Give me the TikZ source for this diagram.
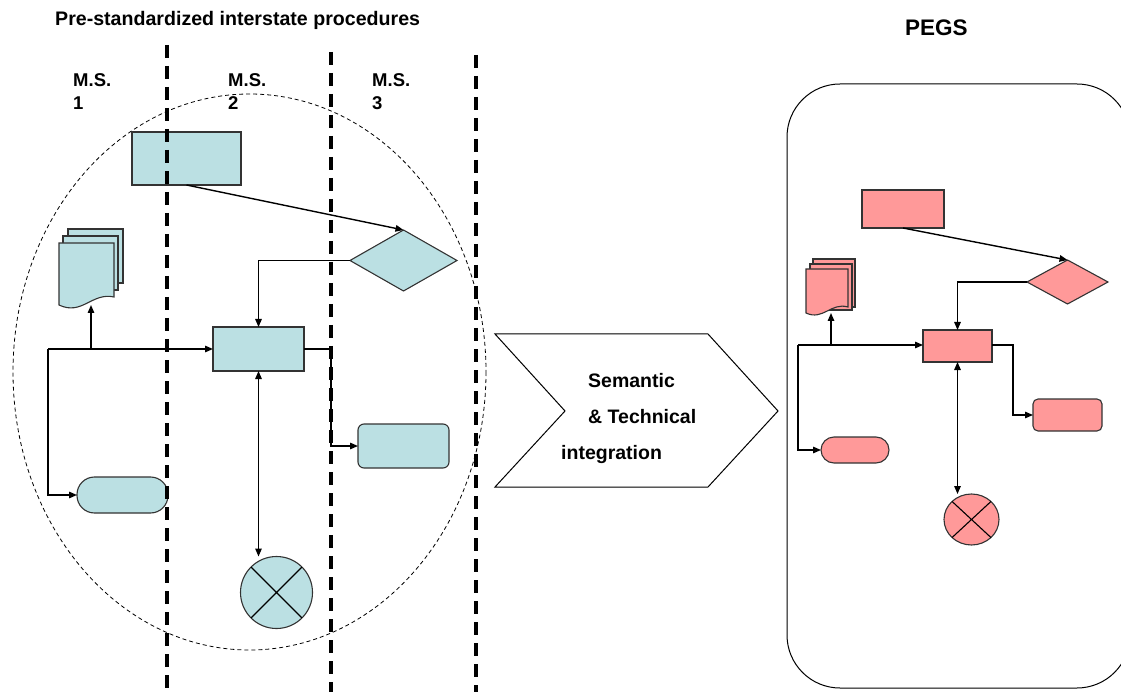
\documentclass[tikz,border=0pt]{standalone}
\usepackage{fontspec}
\setmainfont{Liberation Sans}
\usetikzlibrary{arrows.meta,shapes.geometric}
\definecolor{procblue}{HTML}{BBE0E3}
\definecolor{pegspink}{HTML}{FF9999}
\tikzset{
  shapeline/.style={draw=black!80, line width=1.1pt},
  bluebox/.style={shapeline, fill=procblue, inner sep=0pt, outer sep=0pt},
  pinkbox/.style={shapeline, fill=pegspink, inner sep=0pt, outer sep=0pt},
  link/.style={line width=1.4pt},
  tip/.style={-{Triangle[length=8pt,width=6.5pt]}},
  bothtips/.style={{Triangle[length=8pt,width=6.5pt]}-{Triangle[length=8pt,width=6.5pt]}},
  lane/.style={line width=3.5pt, dash pattern=on 13pt off 8pt},
  lbl/.style={font=\fontsize{18.5}{20}\selectfont\bfseries, anchor=base west, inner sep=0pt},
  heading/.style={font=\fontsize{19.6}{22}\selectfont\bfseries, anchor=base west, inner sep=0pt},
  chevtext/.style={font=\fontsize{19.5}{22}\selectfont\bfseries, anchor=base west, inner sep=0pt},
}
\begin{document}
\begin{tikzpicture}[x=1pt, y=-1pt]
\useasboundingbox (0,0) rectangle (1121,692);

% headings
\node[heading] (title) at (55,26) {Pre-standardized interstate procedures};
\node[heading, font=\fontsize{22.5}{24}\selectfont\bfseries] (pegs) at (905,36) {PEGS};

% member-state lane labels
\node[lbl] (ms1) at (73,87) {M.S.};
\node[lbl] (ms1n) at (73,110) {1};
\node[lbl] (ms2) at (228,87) {M.S.};
\node[lbl] (ms2n) at (228,110) {2};
\node[lbl] (ms3) at (372,87) {M.S.};
\node[lbl] (ms3n) at (372,110) {3};

% scope of the national procedures
\draw[line width=0.8pt, dash pattern=on 4pt off 3pt] (249.5,372) ellipse [x radius=236.5, y radius=278];

% ---------- national procedures ----------
\node[bluebox, minimum width=109pt, minimum height=53pt] (r1) at (186.5,158.5) {};
\node[bluebox, diamond, minimum width=107pt, minimum height=61pt] (dia1) at (403.5,260.5) {};
\node[bluebox, minimum width=91pt, minimum height=44pt] (r2) at (258.5,349) {};
\node[bluebox, rounded corners=17.5pt, minimum width=91pt, minimum height=36pt] (term1) at (122.5,495) {};
\node[bluebox, rounded corners=6pt, minimum width=91pt, minimum height=44pt] (rr1) at (403.5,446) {};
\node[bluebox, circle, minimum size=72pt] (circ1) at (276.5,592.5) {};
\draw[line width=1.1pt] (circ1.north west) -- (circ1.south east) (circ1.north east) -- (circ1.south west);

% multi-document symbol
\draw[shapeline, fill=procblue] (68,229) rectangle (123,283);
\draw[shapeline, fill=procblue] (63,236) rectangle (118,290);
\draw[shapeline, fill=procblue] (59,243) -- (114,243) -- (114,297)
  .. controls (92,292) and (82,316) .. (59,305) -- cycle;
\coordinate (doc1) at (91,305);

% swim-lane separators
\draw[lane] (167,45) -- (167,692);
\draw[lane] (331,52) -- (331,692);
\draw[lane] (476,55) -- (476,692);

% connectors
\coordinate (hub1) at (48,349);
\draw[link, tip] (r1.south) -- (dia1.north);
\draw[link, tip] (dia1.west) -| (r2.north);
\draw[link, tip] (hub1) -- (r2.west);
\draw[link, tip] (hub1) |- (term1.west);
\draw[link, tip] (hub1 -| doc1) -- (doc1);
\draw[link, tip] (r2.east) -- ++(27,0) |- (rr1.west);
\draw[link, bothtips] (r2.south) -- (r2.south |- circ1.north);

% ---------- integration step ----------
\draw[line width=1pt, fill=white] (495,334) -- (708,334) -- (778,411) -- (708,487)
  -- (495,487) -- (565,411) -- cycle;
\node[chevtext] (sem1) at (588,387) {Semantic};
\node[chevtext] (sem2) at (588,423) {\& Technical};
\node[chevtext] (sem3) at (561,459) {integration};

% ---------- PEGS ----------
\draw[line width=1pt, rounded corners=53pt] (787,84) rectangle (1130,688);

\node[pinkbox, minimum width=82pt, minimum height=38pt] (r3) at (903,209) {};
\node[pinkbox, diamond, minimum width=81pt, minimum height=44pt] (dia2) at (1067.5,282) {};
\node[pinkbox, minimum width=69pt, minimum height=32pt] (r4) at (957.5,346) {};
\node[pinkbox, rounded corners=13pt, minimum width=68pt, minimum height=26pt] (term2) at (855,450) {};
\node[pinkbox, rounded corners=5pt, minimum width=69pt, minimum height=32pt] (rr2) at (1067.5,415) {};
\node[pinkbox, ellipse, minimum width=55pt, minimum height=51pt] (circ2) at (971.5,519.5) {};
\draw[line width=1.1pt] (circ2.north west) -- (circ2.south east) (circ2.north east) -- (circ2.south west);

\draw[shapeline, fill=pegspink] (813,259) rectangle (855,307);
\draw[shapeline, fill=pegspink] (810,264) rectangle (852,310);
\draw[shapeline, fill=pegspink] (806,269) -- (848,269) -- (848,307)
  .. controls (831,302) and (823,321) .. (806,313) -- cycle;
\coordinate (doc2) at (831,313);

\coordinate (hub2) at (798,345);
\draw[link, tip] (r3.south) -- (dia2.north);
\draw[link, tip] (dia2.west) -| (r4.north);
\draw[link, tip] (hub2) -- (r4.west |- hub2);
\draw[link, tip] (hub2) |- (term2.west);
\draw[link, tip] (hub2 -| doc2) -- (doc2);
\draw[link, tip] (r4.east |- hub2) -- ++(21,0) |- (rr2.west);
\draw[link, bothtips] (r4.south) -- (r4.south |- circ2.north);
\end{tikzpicture}
\end{document}
